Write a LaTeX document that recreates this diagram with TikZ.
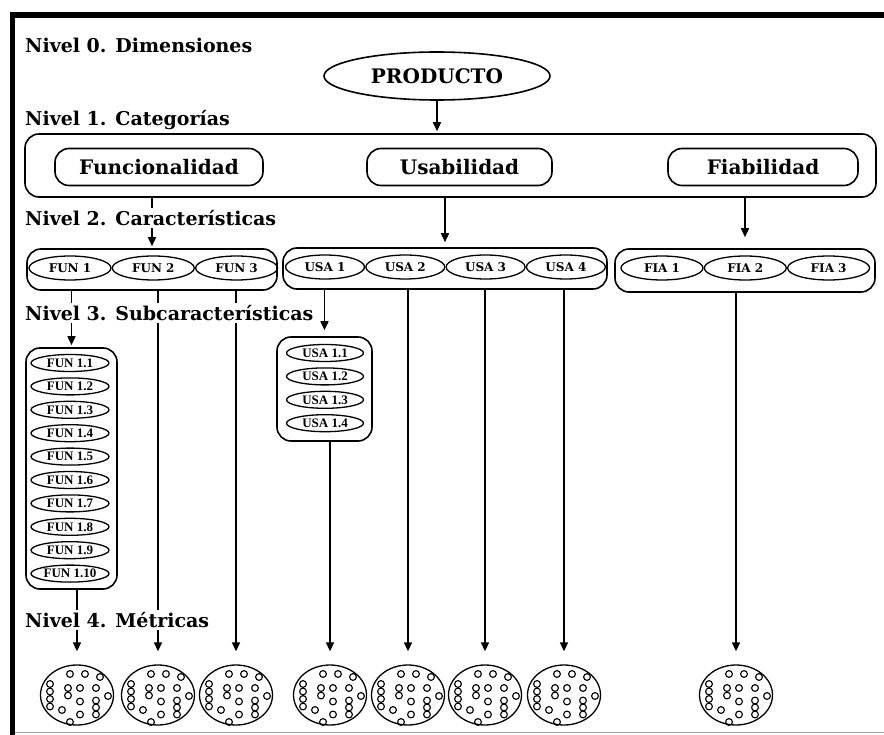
\documentclass[tikz,border=0pt]{standalone}
\usepackage{fontspec}
\usepackage{tikz}
\usetikzlibrary{shapes.geometric,arrows.meta,positioning}
\newfontfamily\wideserif{DejaVu Serif}
\newfontfamily\narrowserif{Liberation Serif}

\begin{document}
\begin{tikzpicture}[
    x=1pt, y=-1pt,
    lvltext/.style={anchor=west, fill=white, inner sep=2pt, font=\wideserif\bfseries\fontsize{19}{21}\selectfont},
    grpbox/.style={draw, line width=1.6pt, rounded corners=14pt},
    catbox/.style={grpbox, minimum height=37pt, font=\wideserif\bfseries\fontsize{20}{22}\selectfont},
    charell/.style={draw, ellipse, line width=1.3pt, inner sep=0pt, minimum width=82pt, minimum height=24pt, font=\wideserif\bfseries\fontsize{12}{13}\selectfont},
    subell/.style={draw, ellipse, line width=1.3pt, inner sep=0pt, minimum width=78pt, minimum height=17pt, font=\narrowserif\bfseries\fontsize{13}{14}\selectfont},
    metricell/.style={draw, ellipse, line width=1.3pt, minimum width=73pt, minimum height=60pt},
    arrow/.style={-{Triangle[length=9pt,width=8pt]}, line width=1.6pt}
  ]
    \useasboundingbox (0,0) rectangle (884,735);
    \fill (10,12) rectangle (884,18);
    \fill (10,12) rectangle (15,735);
    \draw[black!35, line width=1pt] (15,732) -- (884,732);

    \node[draw, ellipse, line width=1.6pt, minimum width=226pt, minimum height=48pt, font=\wideserif\bfseries\fontsize{20}{22}\selectfont] (prod) at (437,76) {PRODUCTO};

    \node[grpbox, minimum width=851pt, minimum height=63pt] (cat) at (450.5,165.5) {};
    \node[catbox, minimum width=208pt] (fun) at (159,167) {Funcionalidad};
    \node[catbox, minimum width=185pt] (usa) at (459.5,167) {Usabilidad};
    \node[catbox, minimum width=190pt] (fia) at (763,167) {Fiabilidad};

    \node[grpbox, minimum width=250pt, minimum height=41pt] (funbox) at (152,269.5) {};
    \node[charell] (fun1) at (70,268) {FUN 1};
    \node[charell, right=0pt of fun1] (fun2) {FUN 2};
    \node[charell, right=0pt of fun2] (fun3) {FUN 3};

    \node[grpbox, minimum width=324pt, minimum height=41pt] (usabox) at (445,268.5) {};
    \node[charell, minimum width=79pt] (usa1) at (325,267) {USA 1};
    \node[charell, minimum width=79pt, right=0pt of usa1] (usa2) {USA 2};
    \node[charell, minimum width=79pt, right=0pt of usa2] (usa3) {USA 3};
    \node[charell, minimum width=79pt, right=0pt of usa3] (usa4) {USA 4};

    \node[grpbox, minimum width=260pt, minimum height=43pt] (fiabox) at (745,270.5) {};
    \node[charell] (fia1) at (662,268) {FIA 1};
    \node[charell, right=0pt of fia1] (fia2) {FIA 2};
    \node[charell, right=0pt of fia2] (fia3) {FIA 3};

    \node[grpbox, minimum width=91pt, minimum height=241pt] (fun1box) at (71.5,468.5) {};
    \foreach \k in {1,...,10}
      \node[subell] (f1s\k) at (70,{363+(\k-1)*23.4}) {FUN 1.\k};

    \node[grpbox, minimum width=95pt, minimum height=104pt] (usa1box) at (324.5,389) {};
    \foreach \k in {1,...,4}
      \node[subell, minimum width=77pt] (u1s\k) at (325,{353+(\k-1)*23.4}) {USA 1.\k};

    \foreach \i/\x in {1/77,2/158,3/236,4/330,5/408,6/485,7/564,8/736} {
      \node[metricell] (m\i) at (\x,695) {};
      \foreach \dx/\dy in {-7/-21,8/-21,23/-18,-27/-11,-27/-3.5,-27/4,-27/11.5,-9/-7,3/-7,19/-7,-9/0.5,3/6.5,19/5.5,31/1,-15/15,3/19.5,19/19.5,19/12.5,-7/27}
        \draw[line width=1.1pt] ([shift={(\dx,\dy)}]m\i.center) circle[radius=3.4pt];
    }

    \draw[arrow, shorten >=2pt] (prod) -- (prod |- cat.north);
    \draw[arrow, shorten >=2pt] (cat.south -| funbox.north) -- (funbox.north);
    \draw[arrow, shorten >=5pt] (cat.south -| usabox.north) -- (usabox.north);
    \draw[arrow, shorten >=11pt] (cat.south -| fiabox.north) -- (fiabox.north);
    \draw[arrow, shorten >=2pt] (funbox.south -| fun1box.north) -- (fun1box.north);
    \draw[arrow, shorten >=6pt] (usabox.south -| usa1box.north) -- (usa1box.north);
    \foreach \src/\i in {fun1box/1,funbox/2,funbox/3,usa1box/4,usabox/5,usabox/6,usabox/7,fiabox/8}
      \draw[arrow, shorten >=13pt] (\src.south -| m\i.north) -- (m\i.north);

    \node[lvltext] (n0) at (23,45) {Nivel 0. Dimensiones};
    \node[lvltext] (n1) at (23,120) {Nivel 1. Categorías};
    \node[lvltext] (n2) at (23,218) {Nivel 2. Características};
    \node[lvltext] (n3) at (23,313) {Nivel 3. Subcaracterísticas};
    \node[lvltext] (n4) at (23,620) {Nivel 4. Métricas};
  \end{tikzpicture}
\end{document}
